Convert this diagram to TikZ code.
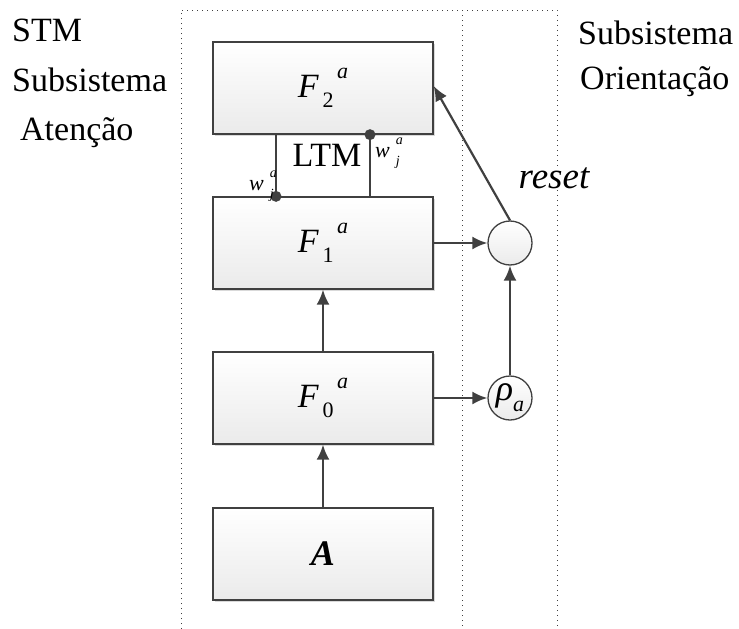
\documentclass[tikz,border=0pt]{standalone}
\usepackage{fontspec}
\setmainfont{Liberation Serif}
\usetikzlibrary{arrows.meta, shadows}

\newcommand{\Fbl}[1]{\fontsize{34}{40}\selectfont\textit{F}\raisebox{-0.3em}{\fontsize{22}{26}\selectfont\,#1}\raisebox{0.55em}{\fontsize{22}{26}\selectfont\,\textit{a}}}
\newcommand{\wja}{\fontsize{22}{26}\selectfont\textit{w}\hspace{6pt}\rlap{\raisebox{0.6em}{\fontsize{14}{16}\selectfont\textit{a}}}\raisebox{-0.35em}{\fontsize{14}{16}\selectfont\textit{j}}}

\begin{document}
\begin{tikzpicture}[x=1pt, y=-1pt,
    box/.style={draw=black!75, line width=1.3pt, top color=white, bottom color=black!8,
      minimum width=220pt, minimum height=92pt, inner sep=0pt,
      drop shadow={shadow xshift=2pt, shadow yshift=-2pt, fill=black!15, opacity=1}},
    circ/.style={circle, draw=black!75, line width=1.3pt, top color=white, bottom color=black!8, minimum size=44pt, inner sep=0pt},
    arr/.style={draw=black!75, line width=2.2pt, -{Latex[length=15pt, width=13pt]}},
    ltm/.style={draw=black!75, line width=2.2pt},
    sep/.style={draw=black!75, line width=1pt, dash pattern=on 1pt off 4pt},
    lbl/.style={font=\fontsize{34}{40}\selectfont, inner sep=0pt}]
    \useasboundingbox (0,0) rectangle (739,629);
    % Subsystem borders
    \draw[sep] (181,629) -- (181,10) -- (557,10) -- (557,629);
    \draw[sep] (462,10) -- (462,629);
    % Subsystem names
    \node[lbl, anchor=west] (stm) at (12,30) {STM};
    \node[lbl, anchor=west] (subat) at (12,80) {Subsistema};
    \node[lbl, anchor=west] (aten) at (20,133) {Atenção};
    \node[lbl, anchor=west] (subor) at (578,33) {Subsistema};
    \node[lbl, anchor=west] (orien) at (580,82) {Orientação};
    % Layers
    \node[box] (f2) at (323,88) {\Fbl{2}};
    \node[box] (f1) at (323,243) {\Fbl{1}};
    \node[box] (f0) at (323,398) {\Fbl{0}};
    \node[box] (inp) at (323,554) {\fontsize{36}{42}\selectfont\textbf{\textit{A}}};
    % Orienting subsystem
    \node[circ] (rst) at (510,243) {};
    \node[circ] (rho) at (510,398) {\fontsize{36}{42}\selectfont\textit{ρ}\raisebox{-0.3em}{\fontsize{22}{26}\selectfont\textit{a}}};
    \node[lbl, font=\fontsize{37}{44}\selectfont\itshape, fill=white, inner sep=1pt] (rsttxt) at (554,178) {reset};
    % LTM weights
    \coordinate (d1) at ([xshift=-47pt]f1.north);
    \coordinate (u1) at ([xshift=47pt]f1.north);
    \draw[ltm] (d1) -- (d1 |- f2.south);
    \draw[ltm] (u1) -- (u1 |- f2.south);
    \fill[black!75] (d1) circle (5.5pt);
    \fill[black!75] (u1 |- f2.south) circle (5.5pt);
    \node[lbl] (ltm) at (327,155) {LTM};
    \node[anchor=east, inner sep=0pt] (wdn) at (274,186) {\wja};
    \node[anchor=west, inner sep=0pt] (wup) at (375,153) {\wja};
    % Connections
    \draw[arr] (inp) -- (f0);
    \draw[arr] (f0) -- (f1);
    \draw[arr] (f1) -- (rst);
    \draw[arr] (f0) -- (rho);
    \draw[arr] (rho) -- (rst);
    \draw[arr] (rst.north) -- ([yshift=2pt]f2.east);
\end{tikzpicture}
\end{document}
